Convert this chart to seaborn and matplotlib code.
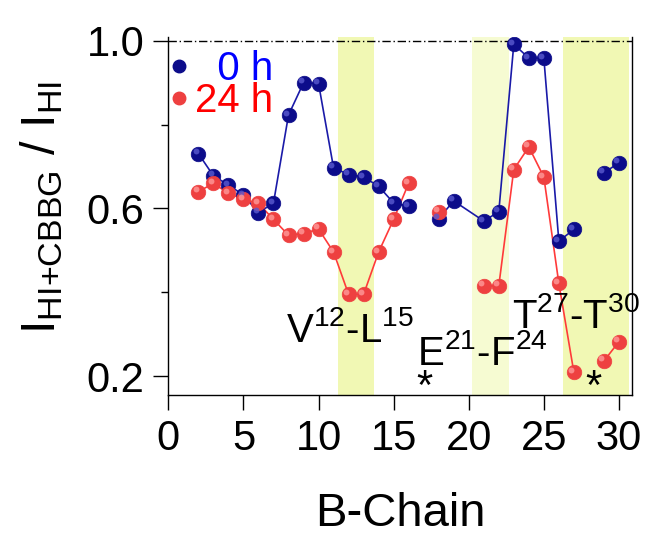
import numpy as np
import pandas as pd
import matplotlib
matplotlib.use("Agg")
import matplotlib.pyplot as plt
from matplotlib.lines import Line2D
import matplotlib.transforms as mtransforms
import seaborn as sns

# ---------------- data ----------------
residue = list(range(1, 31))
nan = np.nan
h0 = [nan, 0.731, 0.678, 0.656, 0.632, 0.590, 0.613, 0.823, 0.900, 0.898,
      0.697, 0.681, 0.675, 0.653, 0.613, 0.605, nan, 0.576, 0.618, nan,
      0.570, 0.592, 0.992, 0.959, 0.959, 0.522, 0.550, nan, 0.685, 0.709]
h24 = [nan, 0.640, 0.660, 0.636, 0.622, 0.612, 0.574, 0.536, 0.540, 0.551,
       0.496, 0.395, 0.395, 0.496, 0.574, 0.660, nan, 0.592, nan, nan,
       0.415, 0.415, 0.693, 0.747, 0.675, 0.421, 0.209, nan, 0.236, 0.282]
# line segment ids (the connecting line is broken between segments)
seg_h0 = [0]*16 + [1]*11 + [2]*3
seg_h24 = [0]*16 + [1]*2 + [2]*9 + [3]*3
series_labels = ["0 h", "24 h"]
regions = [(11.3, 13.7), (20.2, 22.7), (26.3, 30.7)]
region_labels = ["V$^{12}$-L$^{15}$", "E$^{21}$-F$^{24}$", "T$^{27}$-T$^{30}$"]
region_label_pos = [(7.8, 0.282), (16.55, 0.226), (22.9, 0.314)]
star_pos = [17.05, 28.3]
star_y = 0.172

# ---------------- style ----------------
sns.set_theme(style="ticks")
plt.rcParams["font.family"] = ["Liberation Sans", "DejaVu Sans"]
plt.rcParams["mathtext.fontset"] = "custom"
plt.rcParams["mathtext.rm"] = "Liberation Sans"
plt.rcParams["mathtext.it"] = "Liberation Sans"
plt.rcParams["mathtext.bf"] = "Liberation Sans"

blue_line, blue_mk, blue_hi = "#1a1aa8", "#0c0c8a", "#5a5ad0"
red_line, red_mk, red_hi = "#ff3a3a", "#ee4040", "#ff9a9a"

fig = plt.figure(figsize=(6.5, 5.38), dpi=100)
ax = fig.add_axes([0.259, 0.266, 0.714, 0.665])

band_colors = ["#f1f8b4", "#f6fbd2", "#f1f8b4"]
for (a, b), c in zip(regions, band_colors):
    ax.axvspan(a, b, color=c, lw=0, zorder=0)

ax.axhline(1.0, ls=(0, (6, 2, 1, 2)), color="black", lw=1.0, zorder=1)

df0 = pd.DataFrame({"x": residue, "y": h0, "seg": seg_h0}).dropna()
df24 = pd.DataFrame({"x": residue, "y": h24, "seg": seg_h24}).dropna()

hi_tr = mtransforms.offset_copy(ax.transData, fig=fig, x=-1.8, y=1.8, units="points")
for df, lc, mc, hc in [(df0, blue_line, blue_mk, blue_hi), (df24, red_line, red_mk, red_hi)]:
    sns.lineplot(data=df, x="x", y="y", units="seg", estimator=None, sort=False,
                 color=lc, lw=1.2, ax=ax, zorder=2)
    sns.scatterplot(data=df, x="x", y="y", color=mc, s=110, edgecolor=mc,
                    linewidth=0.5, ax=ax, zorder=3)
    ax.scatter(df["x"], df["y"], s=18, color=hc, linewidths=0, alpha=0.8,
               transform=hi_tr, zorder=4)

ax.set_xlim(0, 30.9)
ax.set_ylim(0.155, 1.009)
ax.set_xticks([0, 5, 10, 15, 20, 25, 30])
ax.set_yticks([0.2, 0.6, 1.0])
ax.set_yticks([0.4, 0.8], minor=True)
ax.set_yticklabels(["0.2", "0.6", "1.0"])
ax.tick_params(axis="both", which="major", labelsize=30, length=11, width=1.0,
               direction="out", color="black", labelcolor="black", pad=6)
ax.tick_params(axis="y", which="minor", length=5, width=1.0, color="black")
for s in ["left", "bottom", "right"]:
    ax.spines[s].set_color("black")
    ax.spines[s].set_linewidth(1.0)
ax.spines["top"].set_visible(False)

ax.set_xlabel("B-Chain", fontsize=34, labelpad=24, color="black")
ax.set_ylabel(r"$\mathregular{I_{HI{+}CBBG}\ /\ I_{HI}}$", fontsize=35, color="black")
ax.yaxis.set_label_coords(-0.222, 0.525)

for lab, (px, py) in zip(region_labels, region_label_pos):
    ax.text(px, py, lab, fontsize=29, color="black", ha="left", va="baseline")
for sx in star_pos:
    ax.text(sx, star_y, "*", fontsize=30, color="black", ha="center", va="center")

handles = [Line2D([], [], ls="none", marker="o", markersize=9, color=blue_mk),
           Line2D([], [], ls="none", marker="o", markersize=9, color=red_mk)]
leg = ax.legend(handles, ["  " + series_labels[0], series_labels[1]],
                loc="upper left", bbox_to_anchor=(-0.012, 0.975), frameon=False,
                fontsize=29, handlelength=0.6, handletextpad=0.1,
                labelspacing=-0.15, borderpad=0.1, borderaxespad=0.0)
for t, c in zip(leg.get_texts(), ["#0000ff", "#ff0000"]):
    t.set_color(c)

fig.savefig("out.png", dpi=100)
